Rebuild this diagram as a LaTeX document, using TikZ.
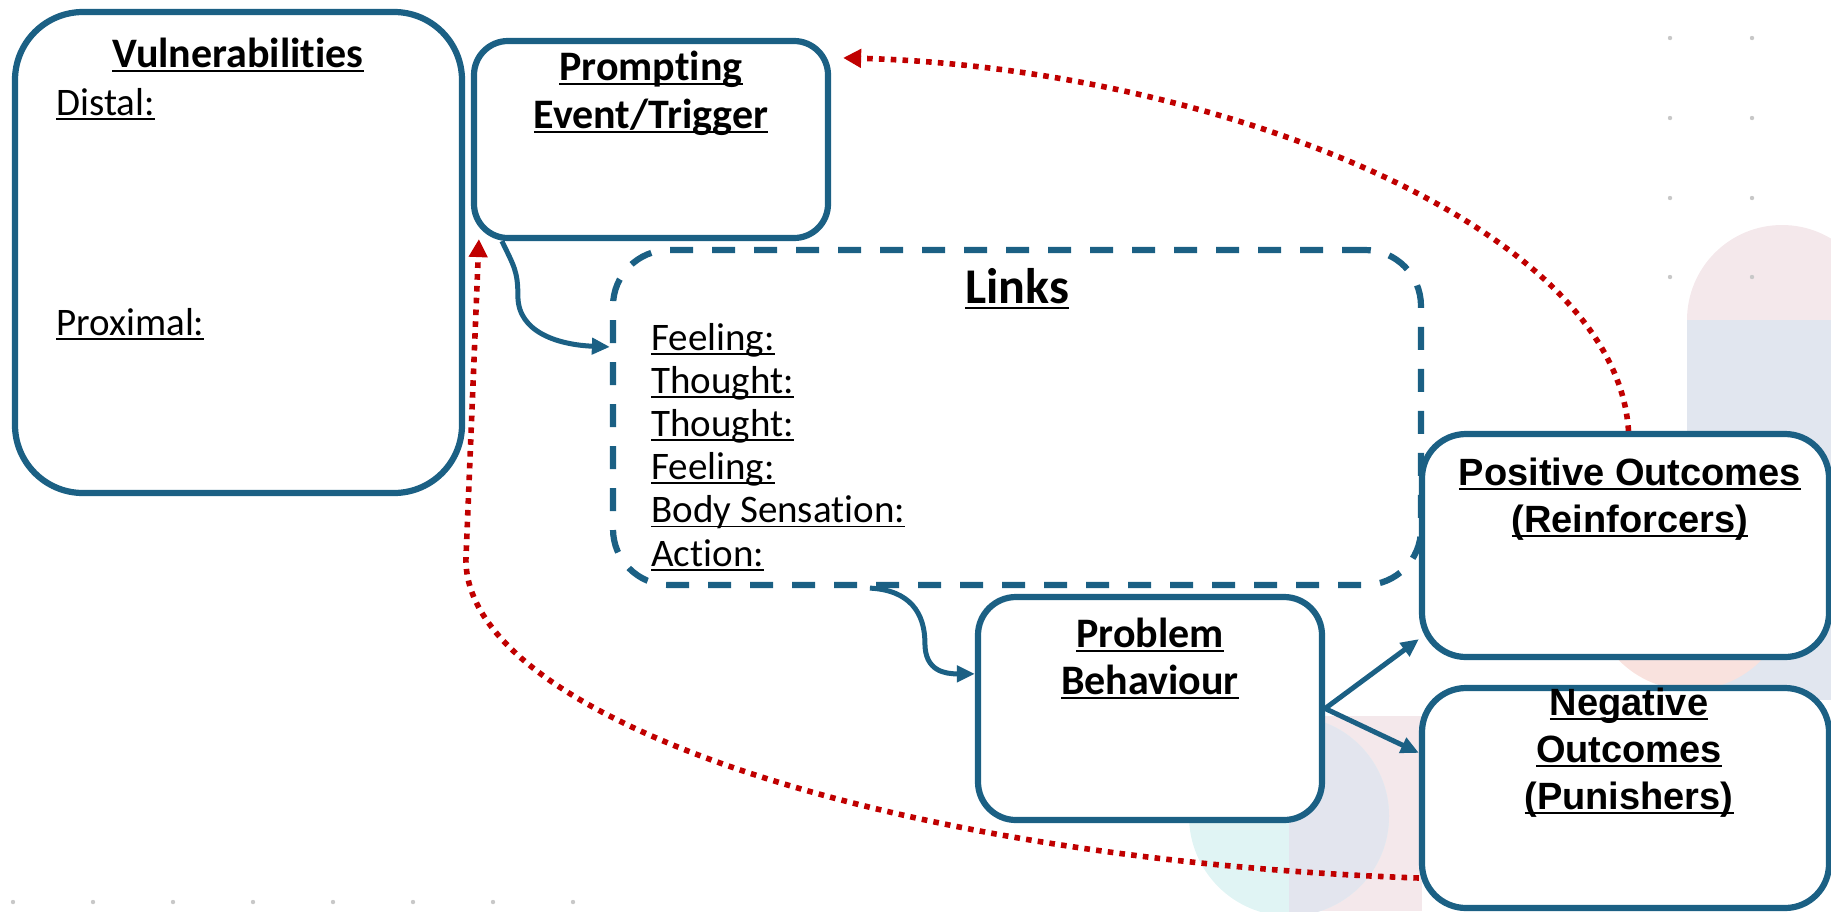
\documentclass[tikz,border=0pt]{standalone}
\usepackage{fontspec}
\setmainfont{Carlito}[Ligatures=NoCommon]
\newfontfamily\widefont{Liberation Sans}
\usepackage{tikz}
\usetikzlibrary{positioning}
\usetikzlibrary{calc}
\usepgflibrary{arrows.meta}
\usepackage{xcolor}

\definecolor{boxblue}{HTML}{1B6084}
\definecolor{linkred}{HTML}{C00000}
\definecolor{dotgray}{HTML}{C8C8C8}
\definecolor{bgpink}{HTML}{F4E8EB}
\definecolor{bgblue}{HTML}{E1E6EF}
\definecolor{bgsalmon}{HTML}{F9E2DE}
\definecolor{bgteal}{HTML}{E0F4F4}
\definecolor{bglav}{HTML}{E3E5EE}

\newsavebox{\undrbox}
\newcommand{\undr}[1]{\sbox{\undrbox}{#1}\rlap{\vrule height -0.07em depth 0.12em width \wd\undrbox}\usebox{\undrbox}}

\begin{document}
\begin{tikzpicture}[x=0.5pt, y=-0.5pt,
    box/.style={draw=boxblue, line width=3.1pt, fill=white, inner sep=0pt, rounded corners=#1},
    box/.default=18pt,
    head/.style={inner sep=0pt, align=center, font=\bfseries\fontsize{21}{24}\selectfont},
    wide/.style={inner sep=0pt, align=center, font=\widefont\bfseries\fontsize{19}{23.5}\selectfont},
    item/.style={inner sep=0pt, font=\fontsize{19.5}{23}\selectfont},
    conn/.style={draw=boxblue, line width=2.5pt, -{Triangle[length=9pt, width=8pt]}},
    feedback/.style={draw=linkred, line width=2.8pt, dash pattern=on 2.8pt off 3.1pt, -{Triangle[length=9pt, width=9pt]}}]
    \useasboundingbox (0,0) rectangle (1831,911);
    \clip (0,0) rectangle (1831,911);

    % background decoration
    \fill[bgpink] (1782,320) circle (95);
    \fill[bgblue] (1687,320) rectangle (1831,700);
    \fill[bgsalmon] (1690,590) circle (100);
    \fill[bgpink] (1289,716) rectangle (1422,911);
    \fill[bgteal] (1289,816) circle (100);
    \begin{scope}
      \clip (1289,716) rectangle (1422,911);
      \fill[bglav] (1289,816) circle (100);
    \end{scope}
    \foreach \x in {1670,1752,1834} {\foreach \y in {38,118,198,277} {\fill[dotgray] (\x,\y) circle (2.2);}}
    \foreach \x in {0,...,7} {\fill[dotgray] ({13+80*\x},902) circle (2.2);}

    % boxes
    \node[box=28pt, dash pattern=on 11.5pt off 9.5pt, minimum width=404pt, minimum height=167.5pt] (links) at (1017,417.5) {};
    \node[box=34pt, minimum width=223.5pt, minimum height=240.5pt] (vuln) at (238.5,252.5) {};
    \node[box=17pt, minimum width=177pt, minimum height=98.5pt] (prompt) at (651,139.5) {};
    \node[box=19pt, minimum width=172pt, minimum height=111.5pt] (problem) at (1150,708.5) {};
    \node[box=22pt, minimum width=203.5pt, minimum height=111.5pt] (posout) at (1625.5,545.5) {};
    \node[box=22pt, minimum width=203.5pt, minimum height=110pt] (negout) at (1625.5,798) {};

    % texts (base of a two-line node is its last line)
    \node[head, anchor=base] (vulnt) at (238,67) {\undr{Vulnerabilities}};
    \node[item, anchor=base west] (distal) at (56,115) {\undr{Distal:}};
    \node[item, anchor=base west] (proximal) at (56,335) {\undr{Proximal:}};
    \node[head, anchor=base] (promptt) at (651,128) {\undr{Prompting}\\\undr{Event/Trigger}};
    \node[head, anchor=base, font=\bfseries\fontsize{25}{30}\selectfont] (linkst) at (1017,303) {\undr{Links}};
    \foreach \t [count=\i] in {Feeling:, Thought:, Thought:, Feeling:, Body Sensation:, Action:}
      \node[item, anchor=base west] (link\i) at (651,{306.8+43.2*\i}) {\undr{\t}};
    \node[head, anchor=base, font=\bfseries\fontsize{21}{23.5}\selectfont] (problemt) at (1150,694) {\undr{Problem}\\\undr{Behaviour}};
    \node[wide, anchor=base] (posoutt) at (1630,532) {\undr{Positive Outcomes}\\\undr{(Reinforcers)}};
    \node[wide, anchor=base] (negoutt) at (1629,809) {\undr{Negative}\\\undr{Outcomes}\\\undr{(Punishers)}};

    % connectors
    \draw[conn] ($(prompt.south west)+(31,0)$) .. controls +(12,25) and +(0,-25) .. ++(16,55) .. controls +(0,37) and +(-50,-2) .. ($(links.north west)+(0,100)$);
    \draw[conn] ($(links.south west)+(260,0)$) .. controls +(40,2) and +(0,-30) .. ++(55,55) .. controls +(0,28) and +(-30,0) .. ($(problem.north west)+(0,80)$);
    \draw[conn] (problem.east) -- ($(posout.south west)+(0,-21)$);
    \draw[conn] (problem.east) -- ($(negout.north west)+(0,68)$);
    \draw[feedback] ($(posout.north)+(3,0)$) .. controls +(-13,-209) and +(360,9) .. ($(prompt.north east)+(12,20)$);
    \draw[feedback] ($(negout.west)+(0,80)$) .. controls +(-522,-18) and +(1,160) .. ++(-953,-318) -- ($(prompt.south west)+(8,-2)$);
\end{tikzpicture}
\end{document}
